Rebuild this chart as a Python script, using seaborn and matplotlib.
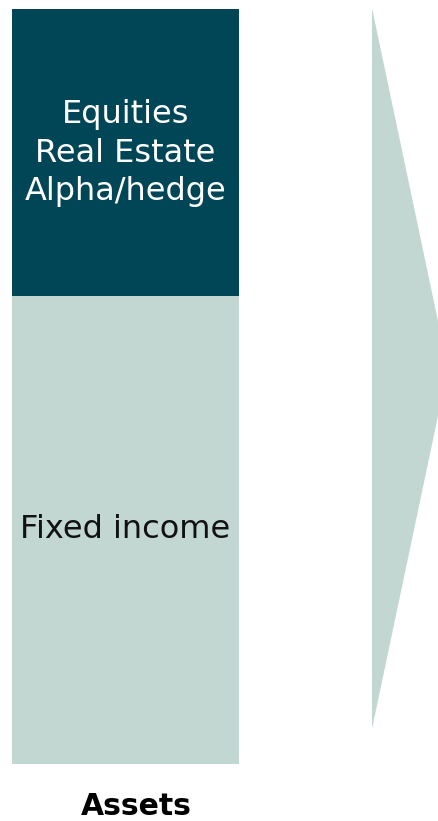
import matplotlib
matplotlib.use("Agg")
import matplotlib.pyplot as plt
import seaborn as sns
import pandas as pd
from matplotlib.patches import Polygon

# ---- data ----
categories = ["Assets"]
fixed_income = [62.0]
growth_assets = [38.0]
segment_labels = ["Fixed income", "Equities\nReal Estate\nAlpha/hedge"]

DARK = "#004656"
LIGHT = "#C3D7D2"

sns.set_theme(style="white")
plt.rcParams["font.family"] = ["DejaVu Sans"]

W, H = 438, 821
fig = plt.figure(figsize=(W / 100, H / 100), dpi=100)
# axes: y 0..100 maps to pixel 764..9
ax = fig.add_axes([0, (H - 764) / H, 1, 755 / H])

df = pd.DataFrame({"cat": categories,
                   "fi": fixed_income,
                   "total": [a + b for a, b in zip(fixed_income, growth_assets)]})

sns.barplot(data=df, x="cat", y="total", color=DARK, width=1.0,
            saturation=1, ax=ax, linewidth=0)
sns.barplot(data=df, x="cat", y="fi", color=LIGHT, width=1.0,
            saturation=1, ax=ax, linewidth=0)

bw = 227.0  # pixels per unit in x
ax.set_xlim(-0.5 - 12 / bw, 0.5 + (W - 239) / bw)
ax.set_ylim(0, 100)

# arrow shape on the right
ppy = 755 / 100.0
x_left = 0.5 + (372 - 239) / bw
x_tip = 0.5 + (448 - 239) / bw
y_top = (764 - 8) / ppy
y_bot = (764 - 729) / ppy
arrow = Polygon([(x_left, y_top), (x_tip, (y_top + y_bot) / 2), (x_left, y_bot)],
                closed=True, facecolor=LIGHT, edgecolor="none", clip_on=False)
ax.add_patch(arrow)

# segment labels
ax.text(0, (764 - 530) / ppy, segment_labels[0], ha="center", va="center",
        fontsize=23, color="#111111")
ax.text(0, (764 - 153) / ppy, segment_labels[1], ha="center", va="center",
        fontsize=23, color="white", linespacing=1.3)

ax.set_axis_off()
fig.text(136 / W, (H - 815) / H, categories[0], ha="center", va="baseline",
         fontsize=21.5, fontweight="bold", color="black")

fig.savefig("out.png", dpi=100)
